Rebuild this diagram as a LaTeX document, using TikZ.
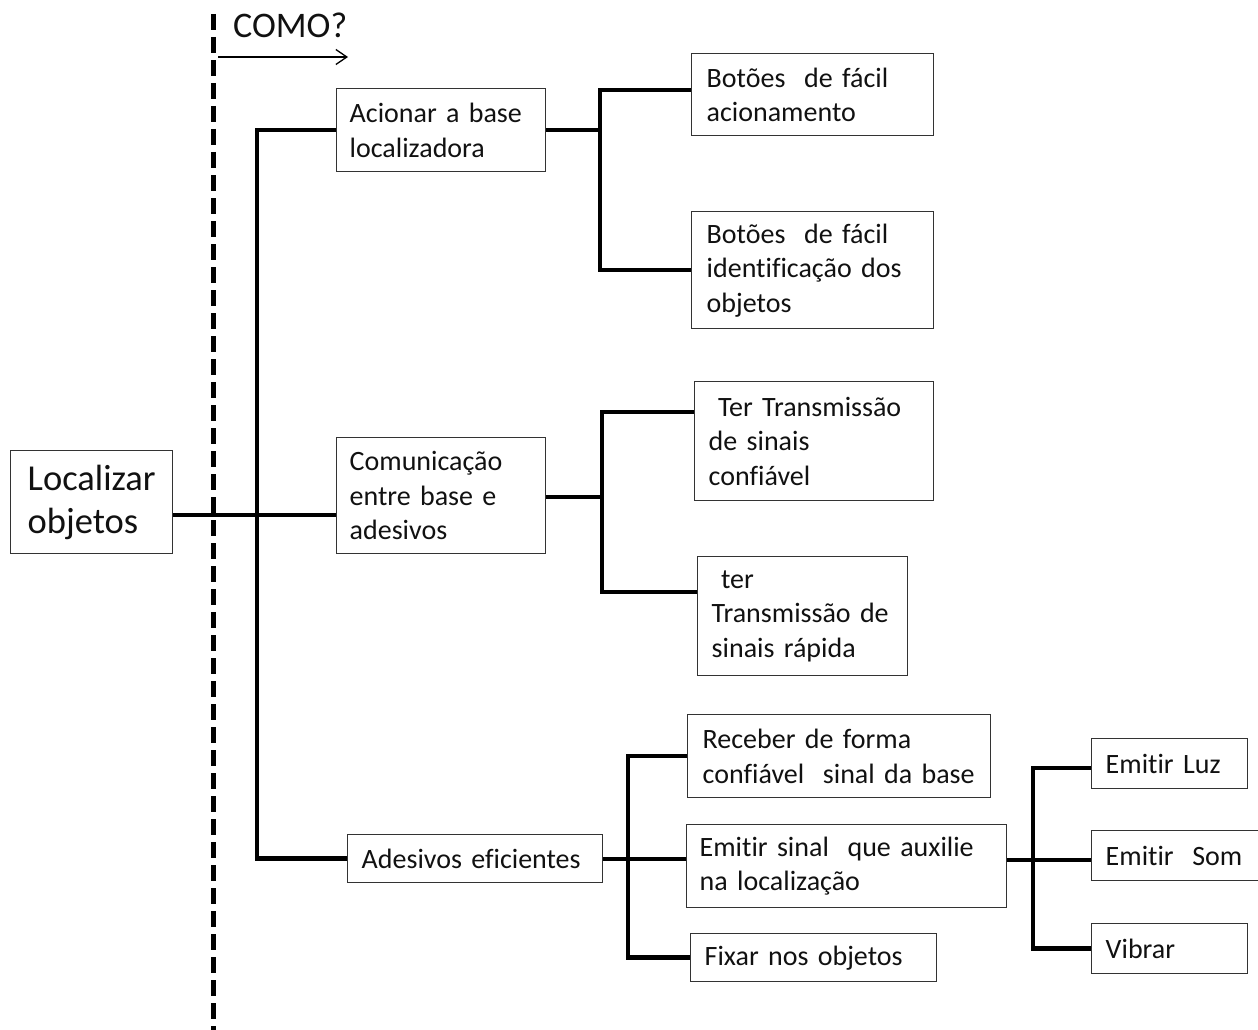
\documentclass[tikz,border=0pt]{standalone}
\usepackage{fontspec}
\setmainfont{Carlito}[Ligatures=NoCommon]
\usetikzlibrary{arrows.meta}
\definecolor{boxc}{HTML}{333333}
\definecolor{txtc}{HTML}{111111}
\begin{document}
\begin{tikzpicture}[x=1pt,y=-1pt,
  box/.style={draw=boxc, line width=1.4pt, anchor=north west, align=left,
    inner ysep=0pt, text=txtc, font=\fontsize{28}{34.5}\selectfont},
  conn/.style={draw=black, line width=4.5pt},
  dashline/.style={draw=black, line width=5pt, dash pattern=on 16pt off 7pt}]
\useasboundingbox (0,0) rectangle (1258,1030);
% nodes
\node[box, inner xsep=17pt, text width=128pt, minimum height=103pt,
  font=\fontsize{36.5}{43}\selectfont] (loc) at (10,450) {Localizar\\objetos};
\node[box, inner xsep=13pt, text width=183pt, minimum height=83pt] (A1) at (336,88) {Acionar a base\\localizadora};
\node[box, inner xsep=15pt, text width=212pt, minimum height=82pt] (B1) at (691,53) {Botões~ de fácil\\acionamento};
\node[box, inner xsep=15pt, text width=212pt, minimum height=117pt] (B2) at (691,211) {Botões~ de fácil\\identificação dos\\objetos};
\node[box, inner xsep=13pt, text width=183pt, minimum height=116pt] (A2) at (336,437) {Comunicação\\entre base e\\adesivos};
\node[box, inner xsep=14pt, text width=211pt, minimum height=119pt] (C1) at (694,381) {\ Ter Transmissão\\de sinais\\confiável};
\node[box, inner xsep=14pt, text width=182pt, minimum height=119pt] (C2) at (697,556) {\ ter\\Transmissão de\\sinais rápida};
\node[box, inner xsep=14pt, text width=227pt, minimum height=48pt] (A3) at (347,834) {Adesivos eficientes};
\node[box, inner xsep=15pt, text width=273pt, minimum height=83pt] (D1) at (687,714) {Receber de forma\\confiável~ sinal da base};
\node[box, inner xsep=13pt, text width=294pt, minimum height=83pt] (D2) at (686,824) {Emitir sinal~ que auxilie\\na localização};
\node[box, inner xsep=14pt, text width=218pt, minimum height=48pt] (D3) at (690,933) {Fixar nos objetos};
\node[box, inner xsep=14pt, text width=128pt, minimum height=50pt] (E1) at (1091,738) {Emitir Luz};
\node[box, inner xsep=14pt, text width=144pt, minimum height=50pt] (E2) at (1091,830) {Emitir~ Som};
\node[box, inner xsep=14pt, text width=128pt, minimum height=50pt] (E3) at (1091,923) {Vibrar};
% COMO header
\coordinate (dtop) at (213,14);
\coordinate (dbot) at (213,1032);
\draw[dashline] (dtop) -- (dbot);
\node[anchor=base west, inner sep=0pt, text=txtc, font=\fontsize{36}{40}\selectfont] (como) at (233,38) {COMO?};
\coordinate (arrs) at (218,57);
\coordinate (arre) at (348,57);
\draw[line width=1.3pt, -{Straight Barb[length=11pt,width=15pt,line width=1.3pt]}] (arrs) -- (arre);
% junction coordinates
\coordinate (m) at (0,515);
\coordinate (tr) at (257,500);
\coordinate (g1) at (600,200);
\coordinate (g2a) at (602,412);
\coordinate (g2b) at (602,592);
\coordinate (g2m) at (0,497);
\coordinate (g3) at (628,850);
\coordinate (g3m) at (0,859);
\coordinate (g4) at (1033,850);
\coordinate (g4m) at (0,860);
% connectors
\draw[conn] (loc.east |- m) -- (A2.west |- m);
\draw[conn] (A1.west) -| (tr) |- (A3.west);
\draw[conn] (A1.east) -- (A1.east -| g1);
\draw[conn] (B1.west |- 0,90) -| (g1) |- (B2.west);
\draw[conn] (A2.east |- g2m) -- (g2a |- g2m);
\draw[conn] (C1.west |- g2a) -- (g2a) -- (g2b) -- (C2.west |- g2b);
\draw[conn] (A3.east |- g3m) -- (D2.west |- g3m);
\draw[conn] (D1.west) -| (g3) |- (D3.west);
\draw[conn] (D2.east |- g4m) -- (E2.west |- g4m);
\draw[conn] (E1.west |- 0,768) -| (g4) |- (E3.west);
\end{tikzpicture}
\end{document}
